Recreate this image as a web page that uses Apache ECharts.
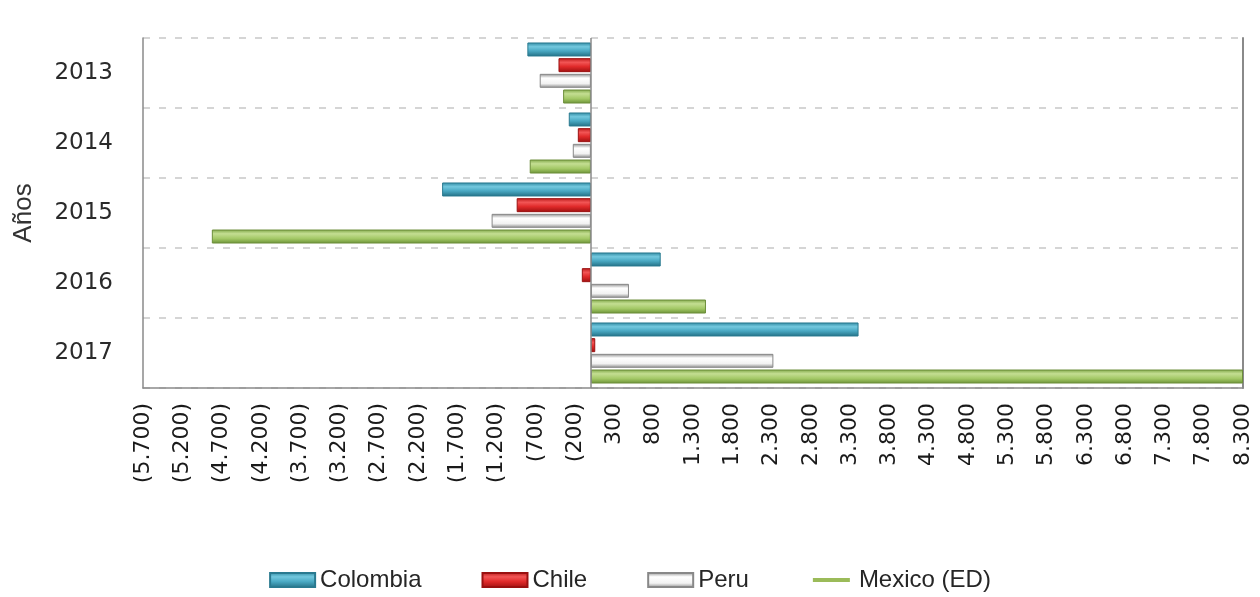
<!DOCTYPE html>
<html>
<head>
<meta charset="utf-8">
<script src="https://cdn.jsdelivr.net/npm/echarts@6/dist/echarts.min.js"></script>
<style>
html,body{margin:0;padding:0;background:#fff;}
#chart{width:1260px;height:597px;}
</style>
</head>
<body>
<div id="chart"></div>
<script>
// Data
var years = ['2013', '2014', '2015', '2016', '2017'];
var colombia = [-808, -281, -1893, 889, 3407];
var chile = [-412, -166, -944, -115, 56];
var peru = [-651, -230, -1263, 485, 2323];
var mexico = [-353, -778, -4824, 1465, 8300];
var seriesNames = ['Colombia', 'Chile', 'Peru', 'Mexico (ED)'];

function grad(stops) {
  return new echarts.graphic.LinearGradient(0, 0, 0, 1,
    stops.map(function (s) { return { offset: s[0], color: s[1] }; }));
}

var styles = {
  'Colombia': { color: grad([[0, '#2f88a0'], [0.3, '#73c8de'], [0.6, '#4aa9c3'], [1, '#236f84']]), borderColor: '#2a7a90' },
  'Chile': { color: grad([[0, '#b81818'], [0.3, '#f25555'], [0.6, '#e02a2a'], [1, '#9e1010']]), borderColor: '#9a1010' },
  'Peru': { color: grad([[0, '#8c8c8c'], [0.3, '#ffffff'], [0.7, '#f2f2f2'], [1, '#888888']]), borderColor: '#888888' },
  'Mexico (ED)': { color: grad([[0, '#7ea646'], [0.3, '#c4de92'], [0.65, '#a3c866'], [1, '#6b9236']]), borderColor: '#6c8e3a' }
};

function fmt(v) {
  var a = Math.abs(Math.round(v));
  var s = String(a).replace(/\B(?=(\d{3})+(?!\d))/g, '.');
  return v < 0 ? '(' + s + ')' : s;
}

var dataSets = [colombia, chile, peru, mexico];
var series = seriesNames.map(function (n, i) {
  var s = {
    name: n,
    type: 'bar',
    data: dataSets[i],
    barWidth: 14,
    barGap: '12%',
    itemStyle: { color: styles[n].color, borderColor: styles[n].borderColor, borderWidth: 1 },
    emphasis: { disabled: true }
  };
  if (i === 0) {
    s.markLine = {
      silent: true,
      symbol: 'none',
      label: { show: false },
      lineStyle: { color: '#8a8a8a', width: 1.5, type: 'solid' },
      data: [{ xAxis: 0 }]
    };
  }
  return s;
});

var chart = echarts.init(document.getElementById('chart'), null, { renderer: 'canvas' });
chart.setOption({
  backgroundColor: '#ffffff',
  animation: false,
  grid: { left: 143, right: 17, top: 38, bottom: 209, containLabel: false },
  xAxis: {
    type: 'value',
    min: -5700,
    max: 8300,
    interval: 500,
    axisLine: { show: true, onZero: false, lineStyle: { color: '#8a8a8a', width: 1.5 } },
    axisTick: { show: false },
    splitLine: { show: false },
    axisLabel: {
      rotate: 90,
      margin: 15,
      fontFamily: 'DejaVu Sans',
      fontSize: 22,
      color: '#1a1a1a',
      showMinLabel: true,
      showMaxLabel: true,
      formatter: fmt
    }
  },
  yAxis: [{
    type: 'category',
    data: years,
    inverse: true,
    position: 'left',
    name: 'Años',
    nameLocation: 'middle',
    nameGap: 106,
    nameTextStyle: { fontFamily: 'Liberation Sans', fontSize: 26, color: '#333333' },
    axisLine: { show: true, onZero: false, lineStyle: { color: '#8a8a8a', width: 1.5 } },
    axisTick: { show: false },
    axisLabel: { margin: 30, fontFamily: 'DejaVu Sans', fontSize: 23, color: '#2a2a2a' },
    splitLine: { show: true, lineStyle: { color: '#c8c8c8', width: 1.5, type: [7, 9] } }
  }, {
    type: 'category',
    data: years,
    inverse: true,
    position: 'right',
    axisLine: { show: true, onZero: false, lineStyle: { color: '#8a8a8a', width: 2 } },
    axisTick: { show: false },
    axisLabel: { show: false },
    splitLine: { show: false }
  }],
  legend: {
    bottom: 0,
    left: 'center',
    itemWidth: 45,
    itemHeight: 14,
    itemGap: 60,
    textStyle: { fontFamily: 'Liberation Sans', fontSize: 24, color: '#262626' },
    data: [
      { name: 'Colombia', icon: 'rect' },
      { name: 'Chile', icon: 'rect' },
      { name: 'Peru', icon: 'rect' },
      { name: 'Mexico (ED)', icon: 'path://M0,0 M45,14 M4,5 L41,5 L41,9 L4,9 Z', itemStyle: { color: '#9bbb59', borderWidth: 0 } }
    ]
  },
  series: series
});
</script>
</body>
</html>
